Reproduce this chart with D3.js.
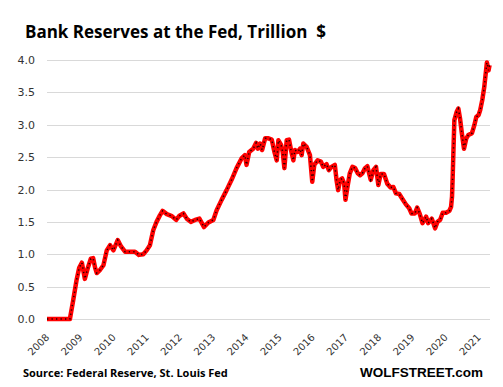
<!DOCTYPE html>
<html>
<head>
<meta charset="utf-8">
<script src="https://cdn.jsdelivr.net/npm/d3@7"></script>
<style>
  body { margin: 0; background: #fff; }
  svg { display: block; }
</style>
</head>
<body>
<div id="chart"></div>
<script>
// chart values (decimal year, trillion $)
var years = [
  2008.00, 2008.69, 2008.79, 2008.89, 2008.97, 2009.05, 2009.09, 2009.14, 2009.23, 2009.32,
  2009.39, 2009.45, 2009.50, 2009.60, 2009.70, 2009.80, 2009.90, 2010.00, 2010.13, 2010.23,
  2010.35, 2010.50, 2010.65, 2010.77, 2010.90, 2011.00, 2011.10, 2011.20, 2011.30, 2011.40,
  2011.48, 2011.61, 2011.76, 2011.89, 2011.98, 2012.11, 2012.21, 2012.33, 2012.46, 2012.59,
  2012.73, 2012.86, 2013.01, 2013.11, 2013.26, 2013.41, 2013.56, 2013.71, 2013.86, 2013.96,
  2014.01, 2014.09, 2014.21, 2014.30, 2014.35, 2014.42, 2014.48, 2014.57, 2014.67, 2014.77,
  2014.85, 2014.92, 2014.97, 2015.05, 2015.10, 2015.15, 2015.22, 2015.29, 2015.35, 2015.42,
  2015.47, 2015.55, 2015.62, 2015.67, 2015.72, 2015.82, 2015.92, 2015.99, 2016.05, 2016.15,
  2016.25, 2016.32, 2016.42, 2016.49, 2016.57, 2016.67, 2016.72, 2016.77, 2016.83, 2016.89,
  2016.95, 2016.99, 2017.05, 2017.12, 2017.20, 2017.28, 2017.36, 2017.43, 2017.50, 2017.58,
  2017.65, 2017.75, 2017.83, 2017.91, 2017.98, 2018.05, 2018.15, 2018.25, 2018.35, 2018.43,
  2018.51, 2018.61, 2018.71, 2018.81, 2018.91, 2018.98, 2019.08, 2019.15, 2019.23, 2019.31,
  2019.42, 2019.48, 2019.59, 2019.69, 2019.76, 2019.84, 2019.92, 2020.02, 2020.12, 2020.17,
  2020.20, 2020.22, 2020.24, 2020.27, 2020.34, 2020.39, 2020.44, 2020.49, 2020.56, 2020.63,
  2020.69, 2020.80, 2020.87, 2020.93, 2021.00, 2021.05, 2021.11, 2021.17, 2021.22, 2021.25,
  2021.30, 2021.33
];
var reserves = [
  0.00, 0.00, 0.29, 0.60, 0.79, 0.87, 0.76, 0.62, 0.79, 0.93,
  0.94, 0.79, 0.71, 0.76, 0.83, 1.06, 1.14, 1.06, 1.22, 1.12,
  1.04, 1.04, 1.04, 0.99, 1.00, 1.06, 1.14, 1.37, 1.50, 1.60,
  1.67, 1.62, 1.59, 1.53, 1.59, 1.63, 1.55, 1.50, 1.53, 1.55,
  1.42, 1.49, 1.53, 1.68, 1.84, 1.99, 2.15, 2.33, 2.48, 2.53,
  2.38, 2.58, 2.63, 2.72, 2.63, 2.71, 2.61, 2.79, 2.79, 2.77,
  2.58, 2.45, 2.76, 2.69, 2.58, 2.33, 2.76, 2.77, 2.61, 2.45,
  2.61, 2.58, 2.63, 2.53, 2.71, 2.66, 2.53, 2.12, 2.38, 2.45,
  2.43, 2.35, 2.39, 2.30, 2.35, 2.38, 2.15, 1.99, 2.15, 2.17,
  2.09, 1.84, 2.04, 2.25, 2.35, 2.33, 2.25, 2.22, 2.25, 2.33,
  2.36, 2.15, 2.30, 2.35, 2.07, 2.24, 2.24, 2.09, 2.03, 2.04,
  1.94, 1.93, 1.85, 1.77, 1.71, 1.63, 1.63, 1.72, 1.62, 1.48,
  1.58, 1.48, 1.55, 1.40, 1.50, 1.53, 1.64, 1.64, 1.67, 1.73,
  1.89, 2.20, 2.56, 3.07, 3.20, 3.25, 3.10, 2.89, 2.63, 2.79,
  2.84, 2.87, 2.99, 3.12, 3.15, 3.23, 3.38, 3.58, 3.82, 3.96,
  3.84, 3.92
];
var yTicks = [0, 0.5, 1, 1.5, 2, 2.5, 3, 3.5, 4];
var yearTicks = [2008, 2009, 2010, 2011, 2012, 2013, 2014, 2015, 2016, 2017, 2018, 2019, 2020, 2021];

var titleText = "Bank Reserves at the Fed, Trillion\u00a0 $";
var sourceText = "Source: Federal Reserve, St. Louis Fed";
var brandText = "WOLFSTREET.com";

var width = 503,
    height = 387;

var plotLeft = 47,
    plotRight = 490,
    plotTop = 60,
    plotBottom = 319;

var svg = d3.select("#chart").append("svg")
    .attr("width", width)
    .attr("height", height);

var data = years.map(function(y, i) { return {t: y, v: reserves[i]}; });

// x scale in decimal years
var xScale = d3.scaleLinear()
    .domain([2008, 2021])
    .range([plotLeft, plotLeft + 13 * 33.2]);

var yScale = d3.scaleLinear()
    .domain([0, 4])
    .range([plotBottom, plotTop]);

// gridlines
svg.append("g")
    .selectAll("line")
    .data(yTicks)
    .enter()
    .append("line")
        .attr("x1", plotLeft)
        .attr("x2", plotRight)
        .attr("y1", function(d) { return Math.round(yScale(d)) + 0.5; })
        .attr("y2", function(d) { return Math.round(yScale(d)) + 0.5; })
        .style("stroke", "#d9d9d9")
        .style("stroke-width", 1);

// y labels
svg.append("g")
    .selectAll("text")
    .data(yTicks)
    .enter()
    .append("text")
        .attr("x", 35)
        .attr("y", function(d) { return yScale(d) + 4; })
        .attr("text-anchor", "end")
        .style("font-family", "DejaVu Sans, Verdana, sans-serif")
        .style("font-size", "11px")
        .style("fill", "#333")
        .text(function(d) { return d3.format(".1f")(d); });

// x labels, rotated
svg.append("g")
    .selectAll("text")
    .data(yearTicks)
    .enter()
    .append("text")
        .attr("transform", function(d) {
            return "translate(" + (xScale(d) + 3) + "," + 338 + ") rotate(-45)";
        })
        .attr("text-anchor", "end")
        .style("font-family", "DejaVu Sans, Verdana, sans-serif")
        .style("font-size", "10px")
        .style("fill", "#333")
        .text(function(d) { return d; });

// the series: thick red line with dark dotted markers on top
var line = d3.line()
    .x(function(d) { return xScale(d.t); })
    .y(function(d) { return yScale(d.v); });

svg.append("path")
    .datum(data)
    .attr("d", line)
    .style("fill", "none")
    .style("stroke", "#ff0000")
    .style("stroke-width", 4.5)
    .style("stroke-linejoin", "round");

svg.append("path")
    .datum(data)
    .attr("d", line)
    .style("fill", "none")
    .style("stroke", "#220000")
    .style("stroke-width", 1.5)
    .style("stroke-dasharray", "1.3,3.2");

// title and footer
svg.append("text")
    .attr("x", 25)
    .attr("y", 38)
    .style("font-family", "Open Sans, Noto Sans, sans-serif")
    .style("font-weight", "bold")
    .style("font-size", "17px")
    .style("fill", "#000")
    .text(titleText);

svg.append("text")
    .attr("x", 23)
    .attr("y", 377)
    .style("font-family", "Open Sans, Noto Sans, sans-serif")
    .style("font-weight", "bold")
    .style("font-size", "11px")
    .style("fill", "#000")
    .text(sourceText);

svg.append("text")
    .attr("x", 483)
    .attr("y", 377)
    .attr("text-anchor", "end")
    .style("font-family", "Liberation Sans, Arial, sans-serif")
    .style("font-weight", "bold")
    .style("font-size", "13.5px")
    .style("fill", "#000")
    .text(brandText);
</script>
</body>
</html>
